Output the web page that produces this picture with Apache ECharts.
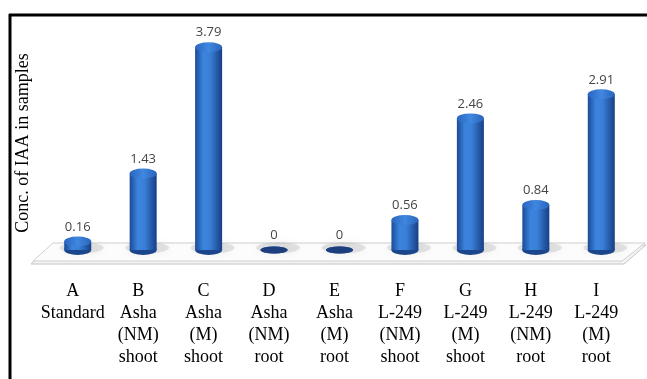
<!DOCTYPE html>
<html>
<head>
<meta charset="utf-8">
<script src="https://cdn.jsdelivr.net/npm/echarts@6/dist/echarts.min.js"></script>
<style>
  html, body { margin: 0; padding: 0; background: #fff; }
  #chart { width: 647px; height: 379px; }
</style>
</head>
<body>
<div id="chart"></div>
<script>
// data
const categories = [
    'A\nStandard',
    'B\nAsha\n(NM)\nshoot',
    'C\nAsha\n(M)\nshoot',
    'D\nAsha\n(NM)\nroot',
    'E\nAsha\n(M)\nroot',
    'F\nL-249\n(NM)\nshoot',
    'G\nL-249\n(M)\nshoot',
    'H\nL-249\n(NM)\nroot',
    'I\nL-249\n(M)\nroot',
];
const values = [0.16, 1.43, 3.79, 0, 0, 0.56, 2.46, 0.84, 2.91];
const yTitle = 'Conc. of IAA in samples';

const BAR_W = 27;
const serif = '"Liberation Serif", "Times New Roman", serif';

const bodyColor = new echarts.graphic.LinearGradient(0, 0, 1, 0, [
    { offset: 0, color: '#1b4a96' },
    { offset: 0.3, color: '#3b84de' },
    { offset: 0.55, color: '#3a7fd7' },
    { offset: 1, color: '#173f86' },
]);
const capColor = new echarts.graphic.LinearGradient(0, 0, 1, 0, [
    { offset: 0, color: '#2a66bf' },
    { offset: 0.5, color: '#3f87e0' },
    { offset: 1, color: '#2a64bb' },
]);

const chart = echarts.init(document.getElementById('chart'));

chart.setOption({
    animation: false,
    graphic: [
        // floor slab
        {
            type: 'polygon',
            shape: { points: [[31, 264], [52, 245], [646, 245], [624, 264]] },
            style: { fill: '#f4f4f4', stroke: '#c4c4c4', lineWidth: 1 },
            z: -10,
        },
        {
            type: 'polygon',
            shape: { points: [[33, 261], [53, 243], [645, 243], [622, 261]] },
            style: { fill: '#fcfcfc', stroke: '#cfcfcf', lineWidth: 1 },
            z: -9,
        },
        // frame
        { type: 'line', shape: { x1: 9, y1: 15, x2: 647, y2: 15 }, style: { stroke: '#000', lineWidth: 3 }, z: 50 },
        { type: 'line', shape: { x1: 10, y1: 14, x2: 10, y2: 379 }, style: { stroke: '#000', lineWidth: 3 }, z: 50 },
    ],
    grid: { left: 45, right: 13, top: 36, bottom: 129 },
    xAxis: {
        type: 'category',
        data: categories,
        axisLine: { show: false },
        axisTick: { show: false },
        axisLabel: {
            interval: 0,
            margin: 30,
            color: '#000',
            fontFamily: serif,
            fontSize: 18,
            lineHeight: 22,
            padding: [0, 10, 0, 0],
        },
    },
    yAxis: {
        type: 'value',
        min: 0,
        max: 4,
        axisLine: { show: false },
        axisTick: { show: false },
        axisLabel: { show: false },
        splitLine: { show: false },
        name: yTitle,
        nameLocation: 'middle',
        nameRotate: 90,
        nameGap: 13,
        nameTextStyle: { color: '#000', fontFamily: serif, fontSize: 18 },
    },
    series: [
        {
            // soft floor shadows
            type: 'pictorialBar',
            symbol: 'circle',
            symbolSize: [44, 11],
            symbolPosition: 'start',
            symbolOffset: [4, '30%'],
            itemStyle: { color: 'rgba(140,140,140,0.22)', shadowBlur: 10, shadowColor: 'rgba(0,0,0,0.25)' },
            data: values,
            z: 1,
            silent: true,
        },
        {
            type: 'bar',
            barWidth: BAR_W,
            itemStyle: { color: bodyColor },
            label: {
                show: true,
                position: 'top',
                distance: 8,
                color: '#454545',
                fontFamily: '"Open Sans", "Liberation Sans", sans-serif',
                fontSize: 13,
            },
            data: values,
            z: 3,
        },
        {
            // bottom cap
            type: 'pictorialBar',
            symbol: 'circle',
            symbolSize: [BAR_W, 10],
            symbolPosition: 'start',
            symbolOffset: [0, '50%'],
            itemStyle: { color: '#1c468c' },
            data: values.map(v => (v === 0 ? { value: v, symbolSize: [BAR_W, 7] } : v)),
            z: 2,
            silent: true,
        },
        {
            // top cap
            type: 'pictorialBar',
            symbol: 'circle',
            symbolSize: [BAR_W, 10],
            symbolPosition: 'end',
            symbolOffset: [0, '-50%'],
            itemStyle: { color: capColor },
            data: values.map(v =>
                v === 0 ? { value: v, symbolSize: [BAR_W, 7], itemStyle: { color: '#1d3f7e' } } : v
            ),
            z: 4,
            silent: true,
        },
    ],
});
</script>
</body>
</html>
